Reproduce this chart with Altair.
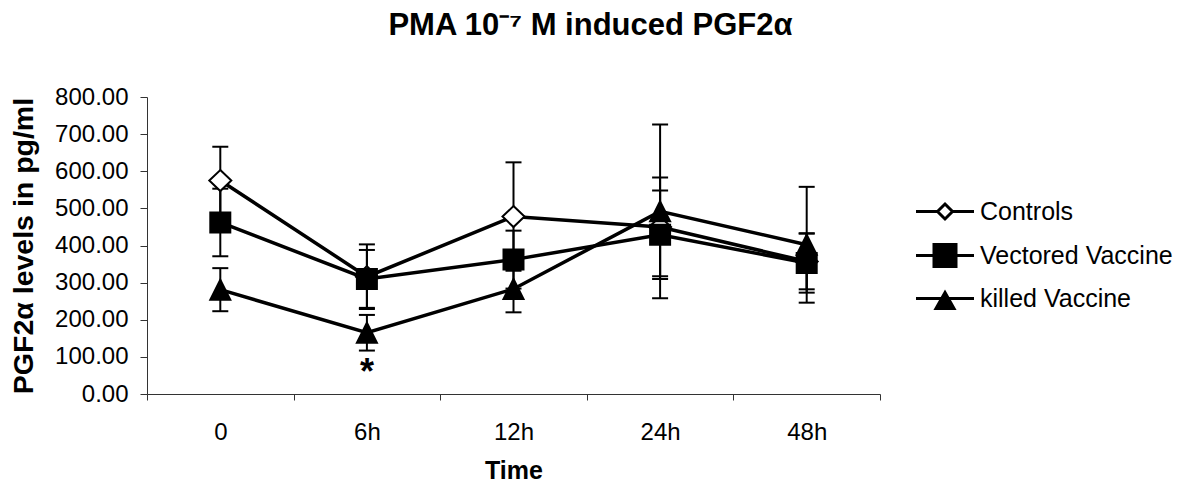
import altair as alt
import pandas as pd

# ---- data ----
times = ["0", "6h", "12h", "24h", "48h"]
series = ["Controls", "Vectored Vaccine", "killed Vaccine"]
controls = [575, 316, 478, 450, 357]
controls_err = [91, 87, 146, 133, 75]
vectored = [462, 310, 362, 429, 353]
vectored_err = [91, 78, 78, 119, 80]
killed = [281, 165, 283, 492, 402]
killed_err = [58, 48, 63, 234, 156]
series_fill = ["white", "black", "black"]
series_stroke = ["black", "black", "black"]
y_ticks = [0, 100, 200, 300, 400, 500, 600, 700, 800]
star_time = ["6h"]
star_value = [28]
star_text = ["*"]

rows = []
for name, vals, errs in zip(series, [controls, vectored, killed],
                            [controls_err, vectored_err, killed_err]):
    for t, v, e in zip(times, vals, errs):
        rows.append({"time": t, "series": name, "value": v, "err": e})
df = pd.DataFrame(rows)
star_df = pd.DataFrame({"time": star_time, "value": star_value, "text": star_text})

FONT = "Liberation Sans"

# marker shapes (plot) and legend shapes (line through marker)
marker_paths = ["M0,-1.05L1.1,0L0,1.05L-1.1,0Z", "M-1,-1H1V1H-1Z", "M0,-1L1,1H-1Z"]
legend_paths = [
    "M-5.8,0H-1.5M1.5,0H5.8M0,-1.5L1.5,0L0,1.5L-1.5,0Z",
    "M-5.8,0H5.8M-2.2,-2.2H2.2V2.2H-2.2Z",
    "M-5.8,0H5.8M0,-1.2L1.8,2H-1.8Z",
]

x_axis = alt.Axis(
    title="Time", titleFont=FONT, titleFontSize=25, titleFontWeight="bold",
    titleColor="black", titlePadding=14,
    labelFont=FONT, labelFontSize=24, labelColor="black", labelAngle=0,
    labelPadding=20, tickBand="extent", tickSize=6, tickColor="#333",
    domainColor="#333", grid=False,
)
x_scale = alt.Scale(domain=times, paddingInner=0, paddingOuter=0)
y_axis = alt.Axis(
    title="PGF2α levels in pg/ml", titleFont=FONT, titleFontSize=28.5,
    titleFontWeight="bold", titleColor="black", titlePadding=16,
    values=y_ticks, format=".2f", labelOverlap=False,
    labelFont=FONT, labelFontSize=24, labelColor="black", labelPadding=12,
    tickSize=7, tickColor="#333", domainColor="#333", grid=False,
)
y_scale = alt.Scale(domain=[0, 800], nice=False, zero=True)


def X():
    return alt.X("time:N", sort=times, scale=x_scale, axis=x_axis)


def Y(field):
    return alt.Y(field, scale=y_scale, axis=y_axis)


base = alt.Chart(df)

err_rule = base.transform_calculate(
    lo="datum.value - datum.err", hi="datum.value + datum.err"
).mark_rule(color="black", strokeWidth=2).encode(x=X(), y=Y("lo:Q"), y2="hi:Q")
cap_lo = base.transform_calculate(lo="datum.value - datum.err").mark_tick(
    color="black", thickness=2, size=16, orient="horizontal", opacity=1
).encode(x=X(), y=Y("lo:Q"))
cap_hi = base.transform_calculate(hi="datum.value + datum.err").mark_tick(
    color="black", thickness=2, size=16, orient="horizontal", opacity=1
).encode(x=X(), y=Y("hi:Q"))

lines = base.mark_line(color="black", strokeWidth=3.5).encode(
    x=X(), y=Y("value:Q"), detail="series:N"
)

points = base.mark_point(filled=True, stroke="black", strokeWidth=2, size=400, opacity=1).encode(
    x=X(), y=Y("value:Q"),
    shape=alt.Shape("series:N", scale=alt.Scale(domain=series, range=marker_paths), legend=None),
    fill=alt.Fill("series:N", scale=alt.Scale(domain=series, range=series_fill), legend=None),
)

legend_def = alt.Legend(
    orient="none", legendX=785.5, legendY=102, title=None,
    symbolSize=100, symbolStrokeWidth=3, symbolStrokeColor="black",
    labelFont=FONT, labelFontSize=25, labelColor="black", labelLimit=400,
    labelOffset=22.5, rowPadding=13, padding=0,
)

legend_layer = base.transform_filter("false").mark_point(
    filled=True, strokeWidth=3, size=100, opacity=1
).encode(
    x=X(), y=Y("value:Q"),
    shape=alt.Shape("series:N", scale=alt.Scale(domain=series, range=legend_paths),
                    legend=legend_def),
    fill=alt.Fill("series:N", scale=alt.Scale(domain=series, range=series_fill),
                  legend=legend_def),
    stroke=alt.Stroke("series:N", scale=alt.Scale(domain=series, range=series_stroke),
                      legend=legend_def),
)

star = alt.Chart(star_df).mark_text(
    font=FONT, fontSize=36, fontWeight="bold", color="black", baseline="alphabetic"
).encode(x=X(), y=Y("value:Q"), text="text:N")

chart = alt.layer(err_rule, cap_lo, cap_hi, lines, points, legend_layer, star).resolve_scale(
    shape="independent", fill="independent", stroke="independent"
).properties(
    width=733, height=297,
    background="white",
    autosize=alt.AutoSizeParams(type="none"),
    padding={"left": 139, "top": 89, "right": 305, "bottom": 91},
    title=alt.TitleParams(
        "PMA 10⁻⁷ M induced PGF2α", font=FONT, fontSize=31, fontWeight="bold",
        color="black", anchor="middle", dx=77, baseline="alphabetic", offset=19,
    ),
).configure_view(stroke=None)

chart.save("out.html", embed_options={"renderer": "svg", "actions": False})
